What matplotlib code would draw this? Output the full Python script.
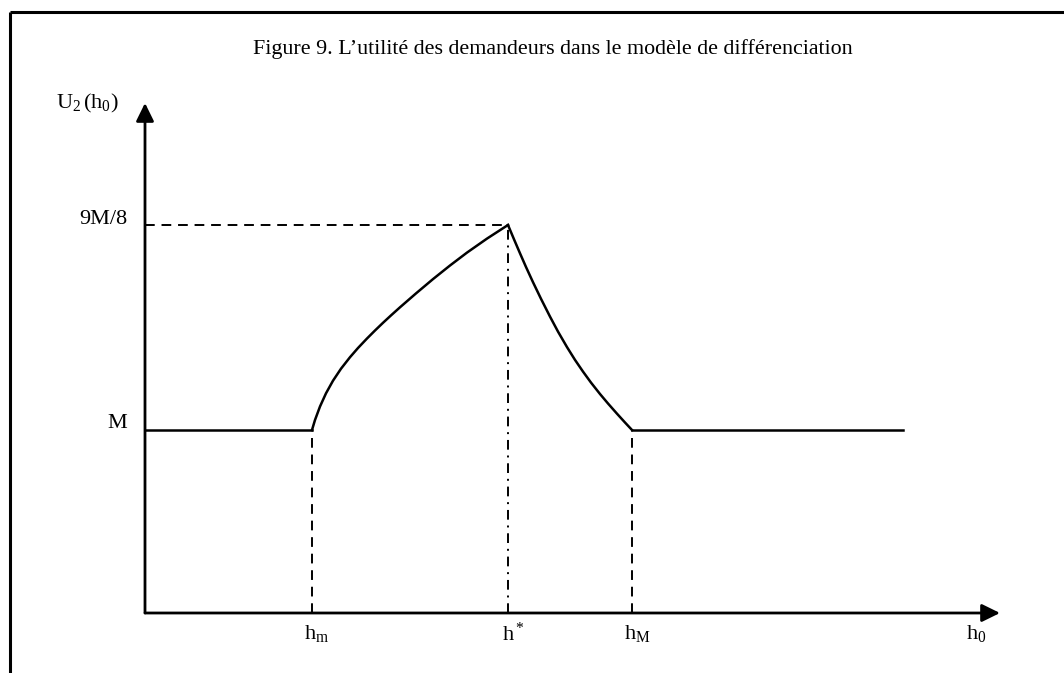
import matplotlib.pyplot as plt

plt.rcParams['font.family'] = ['Liberation Serif', 'DejaVu Serif']
plt.rcParams['mathtext.fontset'] = 'custom'
plt.rcParams['mathtext.rm'] = 'Liberation Serif'
plt.rcParams['mathtext.it'] = 'Liberation Serif:italic'

# schematic levels (arbitrary units, as drawn)
M_LEVEL = 1.83
PEAK_LEVEL = 3.88
H_M_LOW = 1.67
H_STAR = 3.63
H_M_HIGH = 4.87
X_END = 7.58
X_AXIS_END = 8.55
Y_AXIS_END = 5.10

# rising branch between h_m and h*
rise_x = [1.67, 1.70, 1.75, 1.81, 1.88, 1.96, 2.05, 2.13, 2.22, 2.30, 2.38,
          2.46, 2.55, 2.71, 2.88, 3.05, 3.22, 3.42, 3.63]
rise_y = [1.830, 1.930, 2.065, 2.197, 2.323, 2.443, 2.558, 2.650, 2.745, 2.825,
          2.902, 2.976, 3.057, 3.196, 3.339, 3.475, 3.604, 3.744, 3.880]
# falling branch between h* and h_M
fall_x = [3.63, 3.69, 3.75, 3.81, 3.88, 3.96, 4.05, 4.13, 4.22, 4.30, 4.38,
          4.46, 4.55, 4.63, 4.72, 4.80, 4.87]
fall_y = [3.880, 3.737, 3.597, 3.460, 3.308, 3.142, 2.964, 2.814, 2.659, 2.531,
          2.414, 2.304, 2.190, 2.095, 1.993, 1.905, 1.830]

x_ticks = [H_M_LOW, H_STAR, H_M_HIGH]
x_tick_labels = [r'h$_{\rm m}$', r'h$^*$', r'h$_{\rm M}$']
y_ticks = [M_LEVEL, PEAK_LEVEL]
y_tick_labels = ['M', '9M/8']

title = "Figure 9. L’utilité des demandeurs dans le modèle de différenciation"


def main():
    fig = plt.figure(figsize=(10.64, 6.73), dpi=100)
    ax = fig.add_axes([0, 0, 1, 1])
    ax.set_xlim(-1.45, 9.19)
    ax.set_ylim(-0.60, 6.13)
    ax.axis('off')

    # frame (left and top only)
    ax.plot([9.5 / 1064, 9.5 / 1064], [0, 1 - 12 / 673], color='black', lw=2.2,
            transform=ax.transAxes, solid_capstyle='butt')
    ax.plot([9.5 / 1064, 1], [1 - 12 / 673, 1 - 12 / 673], color='black', lw=2.2,
            transform=ax.transAxes, solid_capstyle='butt')

    # axes with arrows
    arrow = dict(arrowstyle='-|>,head_length=0.55,head_width=0.27', color='black',
                 lw=2.0, shrinkA=0, shrinkB=0, mutation_scale=20)
    ax.annotate('', xy=(X_AXIS_END, 0), xytext=(0, 0), arrowprops=arrow)
    ax.annotate('', xy=(0, Y_AXIS_END), xytext=(0, 0), arrowprops=arrow)

    # utility curve
    ax.plot([0, H_M_LOW], [M_LEVEL, M_LEVEL], color='black', lw=1.8)
    ax.plot(rise_x, rise_y, color='black', lw=1.8, solid_joinstyle='round')
    ax.plot(fall_x, fall_y, color='black', lw=1.8, solid_joinstyle='round')
    ax.plot([H_M_HIGH, X_END], [M_LEVEL, M_LEVEL], color='black', lw=1.8)

    # guide lines
    ax.plot([0, H_STAR], [PEAK_LEVEL, PEAK_LEVEL], color='black', lw=1.4,
            dashes=(5, 3.5))
    ax.plot([H_M_LOW, H_M_LOW], [0, M_LEVEL], color='black', lw=1.4, dashes=(5, 3.5))
    ax.plot([H_M_HIGH, H_M_HIGH], [0, M_LEVEL], color='black', lw=1.4, dashes=(5, 3.5))
    ax.plot([H_STAR, H_STAR], [0, PEAK_LEVEL], color='black', lw=1.4,
            dashes=(5, 3, 1, 3))

    # labels
    for x, lab in zip(x_ticks, x_tick_labels):
        ax.text(x + 0.05, -0.10, lab, ha='center', va='top', fontsize=16)
    ax.text(8.31, -0.10, r'h$_0$', ha='center', va='top', fontsize=16)
    for y, lab in zip(y_ticks, y_tick_labels):
        ax.text(-0.18, y + 0.06, lab, ha='right', va='center', fontsize=16)
    ax.text(-0.58, 5.10, r'U$_2\,$(h$_0$)', ha='center', va='center', fontsize=16)

    ax.text(4.08, 5.64, title, ha='center', va='center', fontsize=15.8)

    fig.savefig('out.png', dpi=100)
    plt.close(fig)


if __name__ == "__main__":
    main()
